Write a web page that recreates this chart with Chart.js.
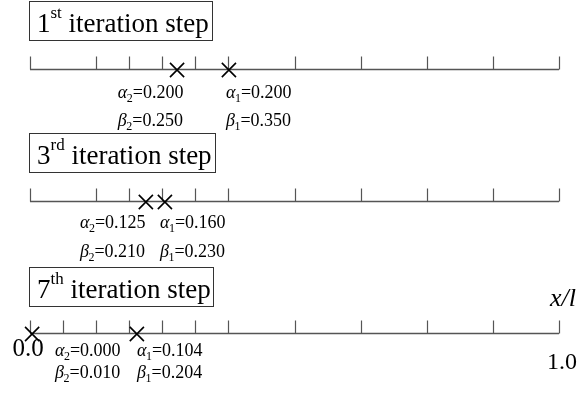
<!DOCTYPE html>
<html>
<head>
<meta charset="utf-8">
<script src="https://cdn.jsdelivr.net/npm/chart.js@4.4.1/dist/chart.umd.min.js"></script>
<style>
html,body{margin:0;padding:0;background:#fff;}
#wrap{width:577px;height:402px;position:relative;}
</style>
</head>
<body>
<div id="wrap"><canvas id="c" width="577" height="402"></canvas></div>
<script>
// ---- data ----
const stepNumbers = ["1", "3", "7"];
const stepSuffixes = ["st", "rd", "th"];
const stepWord = " iteration step";
const tickValues = [
  [0, 0.125, 0.1875, 0.25, 0.3125, 0.375, 0.5, 0.625, 0.75, 0.875, 1.0],
  [0, 0.125, 0.1875, 0.25, 0.3125, 0.375, 0.5, 0.625, 0.75, 0.875, 1.0],
  [0, 0.0625, 0.125, 0.1875, 0.25, 0.3125, 0.375, 0.5, 0.625, 0.75, 0.875, 1.0]
];
const markerValues = [
  [0.278, 0.376],
  [0.219, 0.255],
  [0.004, 0.202]
];
const alpha2 = ["0.200", "0.125", "0.000"];
const alpha1 = ["0.200", "0.160", "0.104"];
const beta2 = ["0.250", "0.210", "0.010"];
const beta1 = ["0.350", "0.230", "0.204"];
const endLabels = ["0.0", "1.0"];
const axisTitle = "x/l";

// ---- layout (positions / styles) ----
const layoutCfg = {
  labelX2: [0.166, 0.0945, 0.0473],
  labelX1: [0.3705, 0.2457, 0.2023],
  alphaDy: [28, 26, 22],
  betaDy: [56, 55, 44],
  boxTop: [1, 133, 267],
  boxRight: [212, 215, 213],
  boxLeft: 29,
  boxH: 39
};
const serif = '"Liberation Serif", "Times New Roman", serif';

const datasets = markerValues.map((row, r) => ({
  data: row.map(v => ({x: v, y: r})),
  pointStyle: 'crossRot',
  pointRadius: 10,
  pointHoverRadius: 10,
  borderColor: '#000',
  backgroundColor: '#000',
  borderWidth: 1.6,
  showLine: false,
  clip: false
}));

function drawSubLabel(ctx, x, y, greek, sub, value) {
  ctx.fillStyle = '#000';
  ctx.textBaseline = 'alphabetic';
  ctx.textAlign = 'left';
  ctx.font = 'italic 18px ' + serif;
  ctx.fillText(greek, x, y);
  x += ctx.measureText(greek).width;
  ctx.font = '12px ' + serif;
  ctx.fillText(sub, x - 0.5, y + 4);
  x += ctx.measureText(sub).width - 0.5;
  ctx.font = '18px ' + serif;
  ctx.fillText('=' + value, x, y);
}

const numberLines = {
  id: 'numberLines',
  beforeDatasetsDraw(chart) {
    const ctx = chart.ctx;
    const xs = chart.scales.x, ys = chart.scales.y;
    ctx.save();
    for (let r = 0; r < 3; r++) {
      const py = Math.round(ys.getPixelForValue(r)) - 0.5;
      ctx.strokeStyle = '#555';
      ctx.lineWidth = 1.5;
      ctx.beginPath();
      ctx.moveTo(xs.getPixelForValue(0), py);
      ctx.lineTo(xs.getPixelForValue(1), py);
      ctx.stroke();
      ctx.lineWidth = 1.2;
      tickValues[r].forEach(t => {
        const px = Math.round(xs.getPixelForValue(t)) + 0.5;
        ctx.beginPath();
        ctx.moveTo(px, py);
        ctx.lineTo(px, py - 13);
        ctx.stroke();
      });
    }
    ctx.restore();
  },
  afterDatasetsDraw(chart) {
    const ctx = chart.ctx;
    const xs = chart.scales.x, ys = chart.scales.y;
    ctx.save();
    for (let r = 0; r < 3; r++) {
      const py = ys.getPixelForValue(r);
      // title box
      const top = layoutCfg.boxTop[r];
      ctx.strokeStyle = '#333';
      ctx.lineWidth = 1;
      ctx.strokeRect(layoutCfg.boxLeft + 0.5, top + 0.5,
        layoutCfg.boxRight[r] - layoutCfg.boxLeft, layoutCfg.boxH);
      ctx.fillStyle = '#000';
      ctx.textBaseline = 'alphabetic';
      ctx.textAlign = 'left';
      let tx = 37, ty = top + 31;
      ctx.font = '27px ' + serif;
      ctx.fillText(stepNumbers[r], tx, ty);
      tx += ctx.measureText(stepNumbers[r]).width;
      ctx.font = '17px ' + serif;
      ctx.fillText(stepSuffixes[r], tx, ty - 14);
      tx += ctx.measureText(stepSuffixes[r]).width;
      ctx.font = '27px ' + serif;
      ctx.fillText(stepWord, tx, ty);
      // labels
      const x2 = xs.getPixelForValue(layoutCfg.labelX2[r]);
      const x1 = xs.getPixelForValue(layoutCfg.labelX1[r]);
      drawSubLabel(ctx, x2, py + layoutCfg.alphaDy[r], '\u03B1', '2', alpha2[r]);
      drawSubLabel(ctx, x1, py + layoutCfg.alphaDy[r], '\u03B1', '1', alpha1[r]);
      drawSubLabel(ctx, x2, py + layoutCfg.betaDy[r], '\u03B2', '2', beta2[r]);
      drawSubLabel(ctx, x1, py + layoutCfg.betaDy[r], '\u03B2', '1', beta1[r]);
    }
    // axis end labels on last line
    const pyL = ys.getPixelForValue(2);
    ctx.fillStyle = '#000';
    ctx.font = '25px ' + serif;
    ctx.textAlign = 'center';
    ctx.fillText(endLabels[0], xs.getPixelForValue(0) - 2, pyL + 22);
    ctx.font = '24px ' + serif;
    ctx.textAlign = 'right';
    ctx.fillText(endLabels[1], 577, pyL + 35);
    ctx.font = 'italic 26px ' + serif;
    ctx.textAlign = 'right';
    ctx.fillText(axisTitle, 576, pyL - 28);
    ctx.restore();
  }
};

new Chart(document.getElementById('c'), {
  type: 'scatter',
  data: { datasets },
  options: {
    responsive: false,
    animation: false,
    events: [],
    layout: { autoPadding: false, padding: { left: 30, right: 18, top: 0, bottom: 0 } },
    plugins: { legend: { display: false }, tooltip: { enabled: false } },
    scales: {
      x: { type: 'linear', min: 0, max: 1, display: false },
      y: { type: 'linear', min: -70 / 132, max: (402 - 70) / 132, reverse: true, display: false }
    }
  },
  plugins: [numberLines]
});
</script>
</body>
</html>
